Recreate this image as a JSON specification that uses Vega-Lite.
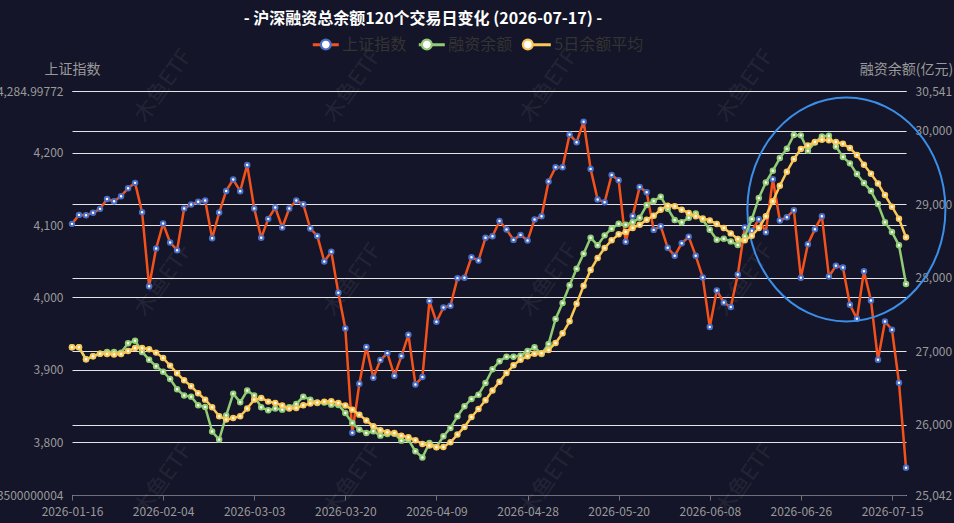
{
  "$schema": "https://vega.github.io/schema/vega-lite/v6.json",
  "autosize": {"type": "none"},
  "width": 834,
  "height": 404,
  "padding": {"left": 72, "top": 91, "right": 48, "bottom": 28},
  "background": "#141528",
  "config": {"font": "Noto Sans CJK SC", "view": {"stroke": null}},
  "title": {
    "text": "- 沪深融资总余额120个交易日变化 (2026-07-17) -",
    "fontSize": 16, "fontWeight": "bold", "color": "#ffffff",
    "anchor": "middle", "dx": -66, "offset": 3, "font": "Noto Sans CJK SC"
  },
  "datasets": {
    "main": [
      {"date":"2026-01-16","上证指数":4101.6,"融资余额":27052,"5日余额平均":27052},
      {"date":"2026-01-19","上证指数":4114.0,"融资余额":27052,"5日余额平均":27052},
      {"date":"2026-01-20","上证指数":4113.6,"融资余额":26889,"5日余额平均":26889},
      {"date":"2026-01-21","上证指数":4116.8,"融资余额":26930,"5日余额平均":26930},
      {"date":"2026-01-22","上证指数":4122.3,"融资余额":26966,"5日余额平均":26966},
      {"date":"2026-01-23","上证指数":4136.0,"融资余额":26989,"5日余额平均":26962},
      {"date":"2026-01-26","上证指数":4132.9,"融资余额":26989,"5日余额平均":26953},
      {"date":"2026-01-27","上证指数":4139.8,"融资余额":26980,"5日余额平均":26960},
      {"date":"2026-01-28","上证指数":4150.8,"融资余额":27107,"5日余额平均":27002},
      {"date":"2026-01-29","上证指数":4158.2,"融资余额":27143,"5日余额平均":27043},
      {"date":"2026-01-30","上证指数":4117.7,"融资余额":26989,"5日余额平均":27043},
      {"date":"2026-02-02","上证指数":4015.6,"融资余额":26884,"5日余额平均":27025},
      {"date":"2026-02-03","上证指数":4067.6,"融资余额":26794,"5日余额平均":26980},
      {"date":"2026-02-04","上证指数":4102.0,"融资余额":26721,"5日余额平均":26907},
      {"date":"2026-02-05","上证指数":4075.9,"融资余额":26621,"5日余额平均":26803},
      {"date":"2026-02-06","上证指数":4065.3,"融资余额":26481,"5日余额平均":26699},
      {"date":"2026-02-09","上证指数":4122.8,"融资余额":26395,"5日余额平均":26603},
      {"date":"2026-02-10","上证指数":4128.3,"融资余额":26381,"5日余额平均":26522},
      {"date":"2026-02-11","上证指数":4132.0,"融资余额":26263,"5日余额平均":26427},
      {"date":"2026-02-12","上证指数":4133.8,"融资余额":26240,"5日余额平均":26340},
      {"date":"2026-02-13","上证指数":4081.8,"融资余额":25905,"5日余额平均":26236},
      {"date":"2026-02-24","上证指数":4117.2,"融资余额":25796,"5日余额平均":26114},
      {"date":"2026-02-25","上证指数":4147.1,"融资余额":26123,"5日余额平均":26068},
      {"date":"2026-02-26","上证指数":4162.8,"融资余额":26422,"5日余额平均":26091},
      {"date":"2026-02-27","上证指数":4146.7,"融资余额":26304,"5日余额平均":26114},
      {"date":"2026-03-02","上证指数":4183.0,"融资余额":26463,"5日余额平均":26218},
      {"date":"2026-03-03","上证指数":4122.8,"融资余额":26395,"5日余额平均":26340},
      {"date":"2026-03-04","上证指数":4082.3,"融资余额":26236,"5日余额平均":26363},
      {"date":"2026-03-05","上证指数":4108.5,"融资余额":26195,"5日余额平均":26313},
      {"date":"2026-03-06","上证指数":4124.1,"融资余额":26218,"5日余额平均":26295},
      {"date":"2026-03-09","上证指数":4096.6,"融资余额":26204,"5日余额平均":26259},
      {"date":"2026-03-10","上证指数":4122.8,"融资余额":26236,"5日余额平均":26218},
      {"date":"2026-03-11","上证指数":4133.8,"融资余额":26281,"5日余额平均":26227},
      {"date":"2026-03-12","上证指数":4128.7,"融资余额":26381,"5日余额平均":26263},
      {"date":"2026-03-13","上证指数":4095.2,"融资余额":26340,"5日余额平均":26286},
      {"date":"2026-03-16","上证指数":4085.0,"融资余额":26295,"5日余额平均":26300},
      {"date":"2026-03-17","上证指数":4049.7,"融资余额":26300,"5日余额平均":26313},
      {"date":"2026-03-18","上证指数":4063.0,"融资余额":26272,"5日余额平均":26318},
      {"date":"2026-03-19","上证指数":4006.4,"融资余额":26268,"5日余额平均":26295},
      {"date":"2026-03-20","上证指数":3957.2,"融资余额":26159,"5日余额平均":26259},
      {"date":"2026-03-23","上证指数":3813.3,"融资余额":26023,"5日余额平均":26204},
      {"date":"2026-03-24","上证指数":3880.9,"融资余额":25932,"5日余额平均":26136},
      {"date":"2026-03-25","上证指数":3931.5,"融资余额":25887,"5日余额平均":26055},
      {"date":"2026-03-26","上证指数":3889.2,"融资余额":25909,"5日余额平均":25977},
      {"date":"2026-03-27","上证指数":3913.6,"融资余额":25850,"5日余额平均":25923},
      {"date":"2026-03-30","上证指数":3923.2,"融资余额":25873,"5日余额平均":25896},
      {"date":"2026-03-31","上证指数":3892.0,"融资余额":25877,"5日余额平均":25887},
      {"date":"2026-04-01","上证指数":3919.1,"融资余额":25782,"5日余额平均":25850},
      {"date":"2026-04-02","上证指数":3948.5,"融资余额":25796,"5日余额平均":25828},
      {"date":"2026-04-03","上证指数":3880.0,"融资余额":25637,"5日余额平均":25787},
      {"date":"2026-04-07","上证指数":3890.1,"融资余额":25553,"5日余额平均":25737},
      {"date":"2026-04-08","上证指数":3995.0,"融资余额":25751,"5日余额平均":25715},
      {"date":"2026-04-09","上证指数":3966.4,"融资余额":25696,"5日余额平均":25692},
      {"date":"2026-04-10","上证指数":3986.2,"融资余额":25841,"5日余额平均":25696},
      {"date":"2026-04-13","上证指数":3988.5,"融资余额":25955,"5日余额平均":25760},
      {"date":"2026-04-14","上证指数":4026.7,"融资余额":26113,"5日余额平均":25864},
      {"date":"2026-04-15","上证指数":4027.1,"融资余额":26250,"5日余额平均":25968},
      {"date":"2026-04-16","上证指数":4055.6,"融资余额":26349,"5日余额平均":26104},
      {"date":"2026-04-17","上证指数":4051.0,"融资余额":26408,"5日余额平均":26213},
      {"date":"2026-04-20","上证指数":4082.3,"融资余额":26567,"5日余额平均":26331},
      {"date":"2026-04-21","上证指数":4084.6,"融资余额":26753,"5日余额平均":26463},
      {"date":"2026-04-22","上证指数":4105.7,"融资余额":26862,"5日余额平均":26585},
      {"date":"2026-04-23","上证指数":4093.8,"融资余额":26925,"5日余额平均":26703},
      {"date":"2026-04-24","上证指数":4079.5,"融资余额":26925,"5日余额平均":26807},
      {"date":"2026-04-27","上证指数":4086.4,"融资余额":26939,"5日余额平均":26884},
      {"date":"2026-04-28","上证指数":4078.6,"融资余额":27002,"5日余额平均":26930},
      {"date":"2026-04-29","上证指数":4107.6,"融资余额":27052,"5日余额平均":26966},
      {"date":"2026-04-30","上证指数":4112.2,"融资余额":26962,"5日余额平均":26971},
      {"date":"2026-05-06","上证指数":4160.0,"融资余额":27098,"5日余额平均":27016},
      {"date":"2026-05-07","上证指数":4179.8,"融资余额":27438,"5日余额平均":27111},
      {"date":"2026-05-08","上证指数":4179.8,"融资余额":27655,"5日余额平均":27243},
      {"date":"2026-05-11","上证指数":4224.8,"融资余额":27896,"5日余额平均":27406},
      {"date":"2026-05-12","上证指数":4214.3,"融资余额":28122,"5日余额平均":27646},
      {"date":"2026-05-13","上证指数":4242.57,"融资余额":28327,"5日余额平均":27891},
      {"date":"2026-05-14","上证指数":4177.5,"融资余额":28544,"5日余额平均":28104},
      {"date":"2026-05-15","上证指数":4135.2,"融资余额":28440,"5日余额平均":28268},
      {"date":"2026-05-18","上证指数":4131.5,"融资余额":28576,"5日余额平均":28404},
      {"date":"2026-05-19","上证指数":4169.2,"融资余额":28667,"5日余额平均":28508},
      {"date":"2026-05-20","上证指数":4161.8,"融资余额":28735,"5日余额平均":28590},
      {"date":"2026-05-21","上证指数":4076.8,"融资余额":28721,"5日余额平均":28621},
      {"date":"2026-05-22","上证指数":4112.6,"融资余额":28753,"5日余额平均":28676},
      {"date":"2026-05-25","上证指数":4152.6,"融资余额":28816,"5日余额平均":28721},
      {"date":"2026-05-26","上证指数":4145.3,"融资余额":28989,"5日余额平均":28789},
      {"date":"2026-05-27","上证指数":4093.3,"融资余额":29043,"5日余额平均":28844},
      {"date":"2026-05-28","上证指数":4098.4,"融资余额":29102,"5日余额平均":28925},
      {"date":"2026-05-29","上证指数":4068.5,"融资余额":28939,"5日余额平均":28980},
      {"date":"2026-06-01","上证指数":4057.5,"融资余额":28785,"5日余额平均":28971},
      {"date":"2026-06-02","上证指数":4074.9,"融资余额":28753,"5日余额平均":28925},
      {"date":"2026-06-03","上证指数":4083.7,"融资余额":28816,"5日余额平均":28880},
      {"date":"2026-06-04","上证指数":4057.5,"融资余额":28875,"5日余额平均":28835},
      {"date":"2026-06-05","上证指数":4027.6,"融资余额":28789,"5日余额平均":28807},
      {"date":"2026-06-08","上证指数":3959.1,"融资余额":28653,"5日余额平均":28780},
      {"date":"2026-06-09","上证指数":4009.7,"融资余额":28517,"5日余额平均":28730},
      {"date":"2026-06-10","上证指数":3993.1,"融资余额":28531,"5日余额平均":28676},
      {"date":"2026-06-11","上证指数":3986.7,"融资余额":28494,"5日余额平均":28603},
      {"date":"2026-06-12","上证指数":4031.7,"融资余额":28444,"5日余额平均":28526},
      {"date":"2026-06-15","上证指数":4096.6,"融资余额":28562,"5日余额平均":28508},
      {"date":"2026-06-16","上证指数":4092.0,"融资余额":28798,"5日余额平均":28571},
      {"date":"2026-06-17","上证指数":4108.0,"融资余额":29084,"5日余额平均":28676},
      {"date":"2026-06-18","上证指数":4090.1,"融资余额":29297,"5日余额平均":28835},
      {"date":"2026-06-22","上证指数":4163.2,"融资余额":29456,"5日余额平均":29039},
      {"date":"2026-06-23","上证指数":4106.2,"融资余额":29628,"5日余额平均":29252},
      {"date":"2026-06-24","上证指数":4110.8,"融资余额":29755,"5日余额平均":29442},
      {"date":"2026-06-25","上证指数":4120.5,"融资余额":29942,"5日余额平均":29615},
      {"date":"2026-06-26","上证指数":4027.1,"融资余额":29937,"5日余额平均":29751},
      {"date":"2026-06-29","上证指数":4073.6,"融资余额":29728,"5日余额平均":29800},
      {"date":"2026-06-30","上证指数":4094.3,"融资余额":29841,"5日余额平均":29846},
      {"date":"2026-07-01","上证指数":4112.2,"融资余额":29923,"5日余额平均":29878},
      {"date":"2026-07-02","上证指数":4029.0,"融资余额":29933,"5日余额平均":29869},
      {"date":"2026-07-03","上证指数":4043.7,"融资余额":29787,"5日余额平均":29846},
      {"date":"2026-07-06","上证指数":4041.4,"融资余额":29642,"5日余额平均":29823},
      {"date":"2026-07-07","上证指数":3989.9,"融资余额":29556,"5日余额平均":29764},
      {"date":"2026-07-08","上证指数":3970.6,"融资余额":29410,"5日余额平均":29669},
      {"date":"2026-07-09","上证指数":4036.3,"融资余额":29288,"5日余额平均":29538},
      {"date":"2026-07-10","上证指数":3995.9,"融资余额":29179,"5日余额平均":29415},
      {"date":"2026-07-13","上证指数":3914.0,"融资余额":29002,"5日余额平均":29283},
      {"date":"2026-07-14","上证指数":3966.9,"融资余额":28753,"5日余额平均":29125},
      {"date":"2026-07-15","上证指数":3955.4,"融资余额":28621,"5日余额平均":28966},
      {"date":"2026-07-16","上证指数":3882.3,"融资余额":28440,"5日余额平均":28803},
      {"date":"2026-07-17","上证指数":3765.0,"融资余额":27914,"5日余额平均":28549}
    ],
    "wm": [
      {"date":"2026-02-04","value":4292,"label":"木鱼ETF"},
      {"date":"2026-03-23","value":4292,"label":"木鱼ETF"},
      {"date":"2026-05-06","value":4292,"label":"木鱼ETF"},
      {"date":"2026-06-15","value":4292,"label":"木鱼ETF"},
      {"date":"2026-02-04","value":4024,"label":"木鱼ETF"},
      {"date":"2026-03-23","value":4024,"label":"木鱼ETF"},
      {"date":"2026-05-06","value":4024,"label":"木鱼ETF"},
      {"date":"2026-06-15","value":4024,"label":"木鱼ETF"},
      {"date":"2026-02-04","value":3748,"label":"木鱼ETF"},
      {"date":"2026-03-23","value":3748,"label":"木鱼ETF"},
      {"date":"2026-05-06","value":3748,"label":"木鱼ETF"},
      {"date":"2026-06-15","value":3748,"label":"木鱼ETF"}
    ],
    "note": [
      {"date":"2026-07-06","value":4121.4}
    ]
  },
  "layer": [
    {
      "layer": [
        {
          "data": {"name": "wm"},
          "mark": {"type": "text", "angle": -55, "fontSize": 22, "color": "#ffffff", "opacity": 0.06, "font": "Noto Sans CJK SC"},
          "encoding": {
            "x": {"field": "date", "type": "ordinal", "scale": {"type": "point", "padding": 0}, "axis": {"title": null, "values": ["2026-01-16","2026-02-04","2026-03-03","2026-03-20","2026-04-09","2026-04-28","2026-05-20","2026-06-08","2026-06-26","2026-07-15"], "labelAngle": 0, "labelColor": "#9a9a9a", "labelFontSize": 12, "labelPadding": 6, "domainColor": "#6e7079", "tickColor": "#6e7079", "tickSize": 5, "grid": false, "labelOverlap": false}},
            "y": {"field": "value", "type": "quantitative"},
            "text": {"field": "label"}
          }
        },
        {
          "data": {"name": "main"},
          "transform": [{"fold": ["上证指数"], "as": ["series", "value"]}],
          "mark": {"type": "line", "strokeWidth": 2.5, "strokeJoin": "round"},
          "encoding": {
            "x": {"field": "date", "type": "ordinal", "scale": {"type": "point", "padding": 0}, "axis": {"title": null, "values": ["2026-01-16","2026-02-04","2026-03-03","2026-03-20","2026-04-09","2026-04-28","2026-05-20","2026-06-08","2026-06-26","2026-07-15"], "labelAngle": 0, "labelColor": "#9a9a9a", "labelFontSize": 12, "labelPadding": 6, "domainColor": "#6e7079", "tickColor": "#6e7079", "tickSize": 5, "grid": false, "labelOverlap": false}},
            "y": {"field": "value", "type": "quantitative", "scale": {"domain": [3727.35, 4284.99772], "nice": false, "zero": false},
              "axis": {"title": "上证指数", "orient": "left", "values": [3727.35, 3800, 3900, 4000, 4100, 4200, 4284.99772], "labelExpr": "datum.value < 3730 ? '3,727.3500000004' : format(datum.value, ',')", "grid": true, "gridColor": "#e4e4e4", "gridWidth": 1, "domain": false, "ticks": false, "labelColor": "#9a9a9a", "labelFontSize": 12, "labelPadding": 9, "labelOverlap": false, "titleColor": "#9a9a9a", "titleFontSize": 14, "titleFontWeight": "normal", "titleAngle": 0, "titleAlign": "center", "titleBaseline": "alphabetic", "titleX": 0, "titleY": -18}},
            "color": {"field": "series", "type": "nominal", "scale": {"domain": ["上证指数", "融资余额", "5日余额平均"], "range": ["#f4521c", "#91cc75", "#fac858"]},
              "legend": {"title": null, "orient": "none", "legendX": 239.3, "legendY": -61, "direction": "horizontal", "symbolType": "stroke", "symbolSize": 676, "symbolStrokeWidth": 3, "labelFontSize": 16, "labelColor": "#333333", "labelOffset": 2, "columnPadding": 5, "padding": 0, "zindex": 1, "labelFont": "Noto Sans CJK SC"}}
          }
        },
        {
          "data": {"name": "main"},
          "transform": [{"fold": ["上证指数"], "as": ["marker", "value"]}],
          "mark": {"type": "point", "filled": false, "fill": "#ffffff", "fillOpacity": 1, "opacity": 1, "strokeWidth": 2, "size": 20},
          "encoding": {
            "x": {"field": "date", "type": "ordinal", "scale": {"type": "point", "padding": 0}},
            "y": {"field": "value", "type": "quantitative"},
            "stroke": {"field": "marker", "type": "nominal", "scale": {"domain": ["上证指数", "融资余额", "5日余额平均", "其他"], "range": ["#4a6dc6", "#91cc75", "#fac858", "#888888"]},
              "legend": {"title": null, "values": ["上证指数", "融资余额", "5日余额平均"], "orient": "none", "legendX": 239.3, "legendY": -61, "direction": "horizontal", "symbolType": "M-0.38,0 A0.38,0.38 0 1,1 0.38,0 A0.38,0.38 0 1,1 -0.38,0 Z", "symbolSize": 676, "symbolStrokeWidth": 2.2, "labelFontSize": 16, "labelColor": "#333333", "labelOpacity": 0, "labelOffset": 2, "columnPadding": 5, "padding": 0, "zindex": 2, "labelFont": "Noto Sans CJK SC",
                "encode": {"symbols": {"update": {"fill": {"value": "#ffffff"}, "fillOpacity": {"value": 1}}}}}}
          }
        },
        {
          "data": {"name": "note"},
          "mark": {"type": "point", "shape": "M-0.853,0 A0.884,1 0 1,1 0.915,0 A0.884,1 0 1,1 -0.853,0 Z", "size": 50176, "filled": false, "stroke": "#3b8fe8", "strokeWidth": 2, "opacity": 1},
          "encoding": {
            "x": {"field": "date", "type": "ordinal", "scale": {"type": "point", "padding": 0}},
            "y": {"field": "value", "type": "quantitative"}
          }
        }
      ]
    },
    {
      "layer": [
        {
          "data": {"name": "main"},
          "transform": [{"fold": ["融资余额", "5日余额平均"], "as": ["series", "value"]}],
          "mark": {"type": "line", "strokeWidth": 2.5, "strokeJoin": "round"},
          "encoding": {
            "x": {"field": "date", "type": "ordinal", "scale": {"type": "point", "padding": 0}},
            "y": {"field": "value", "type": "quantitative", "scale": {"domain": [25042, 30541], "nice": false, "zero": false},
              "axis": {"title": "融资余额(亿元)", "orient": "right", "values": [25042, 26000, 27000, 28000, 29000, 30000, 30541], "labelExpr": "format(datum.value, ',')", "grid": true, "gridColor": "#e4e4e4", "gridWidth": 1, "domain": false, "ticks": false, "labelColor": "#9a9a9a", "labelFontSize": 12, "labelPadding": 9, "labelOverlap": false, "titleColor": "#9a9a9a", "titleFontSize": 14, "titleFontWeight": "normal", "titleAngle": 0, "titleAlign": "center", "titleBaseline": "alphabetic", "titleX": 0, "titleY": -18}},
            "color": {"field": "series", "type": "nominal"},
            "detail": {"field": "series"}
          }
        },
        {
          "data": {"name": "main"},
          "transform": [{"fold": ["融资余额", "5日余额平均"], "as": ["marker", "value"]}],
          "mark": {"type": "point", "filled": false, "fill": "#ffffff", "fillOpacity": 1, "opacity": 1, "strokeWidth": 2, "size": 20},
          "encoding": {
            "x": {"field": "date", "type": "ordinal", "scale": {"type": "point", "padding": 0}},
            "y": {"field": "value", "type": "quantitative", "axis": {"title": "融资余额(亿元)", "orient": "right", "values": [25042, 26000, 27000, 28000, 29000, 30000, 30541], "labelExpr": "format(datum.value, ',')", "grid": true, "gridColor": "#e4e4e4", "gridWidth": 1, "domain": false, "ticks": false, "labelColor": "#9a9a9a", "labelFontSize": 12, "labelPadding": 9, "labelOverlap": false, "titleColor": "#9a9a9a", "titleFontSize": 14, "titleFontWeight": "normal", "titleAngle": 0, "titleAlign": "center", "titleBaseline": "alphabetic", "titleX": 0, "titleY": -18}},
            "stroke": {"field": "marker", "type": "nominal"}
          }
        }
      ]
    }
  ],
  "resolve": {"scale": {"y": "independent"}}
}
